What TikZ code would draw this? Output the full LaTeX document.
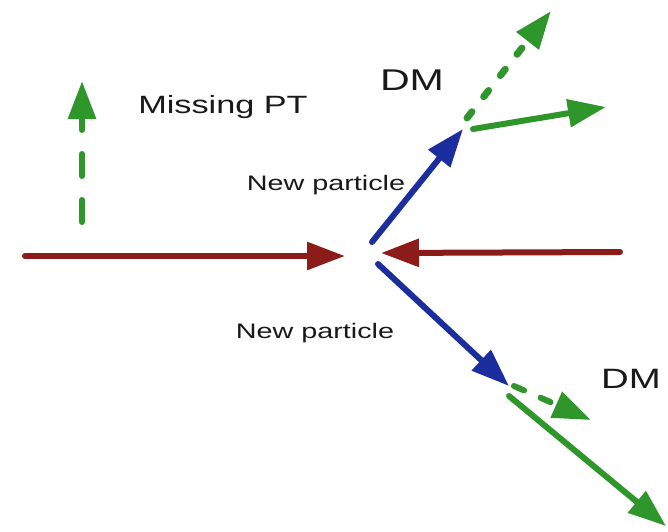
\documentclass[tikz,border=0pt]{standalone}
\usepackage{fontspec}
\setmainfont{Liberation Sans}
\newfontfamily\labelfont[FakeStretch=1.37]{Liberation Sans}
\usetikzlibrary{arrows.meta}
\definecolor{BeamRed}{HTML}{8C1C1A}
\definecolor{NewBlue}{HTML}{1C2E9E}
\definecolor{DMGreen}{HTML}{2E962A}

\begin{document}
\begin{tikzpicture}[x=1pt, y=-1pt, line cap=round,
    >={Triangle[length=38pt, width=27pt]},
    beam/.style={->, line width=6pt, BeamRed},
    newp/.style={->, line width=6pt, NewBlue},
    dmline/.style={->, line width=6pt, DMGreen},
    dmdash/.style={dmline, line width=7pt, dash pattern=on 8pt off 19pt},
    lbl/.style={anchor=base, inner sep=0pt, text=black!90}]
  \useasboundingbox (0,0) rectangle (668,531);
  % end points
  \coordinate (beamL) at (25,256);
  \coordinate (hitL) at (345,256);
  \coordinate (beamR) at (620,252);
  \coordinate (hitR) at (381,253);
  \coordinate (npUpS) at (372,242);
  \coordinate (npUpE) at (463,129);
  \coordinate (npLoS) at (378,264);
  \coordinate (npLoE) at (509,386);
  \coordinate (dmUpS) at (467,118);
  \coordinate (dmUpE) at (551,11);
  \coordinate (visUpS) at (473,129);
  \coordinate (visUpE) at (606,107);
  \coordinate (dmLoS) at (514,386);
  \coordinate (dmLoE) at (591,420);
  \coordinate (visLoS) at (509,396);
  \coordinate (visLoE) at (666,526);
  \coordinate (metS) at (82,222);
  \coordinate (metE) at (82,81);
  % colliding beams
  \draw[beam, ->={Triangle[length=42pt, width=29pt]}] (beamL) -- (hitL);
  \draw[beam] (beamR) -- (hitR);
  % new particles
  \draw[newp] (npUpS) -- (npUpE);
  \draw[newp] (npLoS) -- (npLoE);
  % decay products
  \draw[dmdash, ->={Triangle[length=34pt, width=28pt]}] (dmUpS) -- (dmUpE);
  \draw[dmline, ->={Triangle[length=36pt, width=26pt]}] (visUpS) -- (visUpE);
  \draw[dmdash, line width=6pt, dash pattern=on 11pt off 18pt, ->={Triangle[length=38pt, width=26pt]}] (dmLoS) -- (dmLoE);
  \draw[dmline] (visLoS) -- (visLoE);
  % missing transverse momentum
  \draw[dmline, dash pattern=on 22pt off 24pt, ->={Triangle[length=31pt, width=31pt]}] (metS) -- (metE);
  % labels
  \node[lbl, font={\labelfont\fontsize{25}{28}\selectfont}] (metlbl) at (223,113) {Missing PT};
  \node[lbl, font={\labelfont\fontsize{30}{32}\selectfont}] (dmUp) at (412,90) {DM};
  \node[lbl, font={\labelfont\fontsize{21}{24}\selectfont}] (npUp) at (326,190) {New particle};
  \node[lbl, font={\labelfont\fontsize{21}{24}\selectfont}] (npLo) at (315,338) {New particle};
  \node[lbl, font={\labelfont\fontsize{28}{30}\selectfont}] (dmLo) at (631,388) {DM};
\end{tikzpicture}
\end{document}
